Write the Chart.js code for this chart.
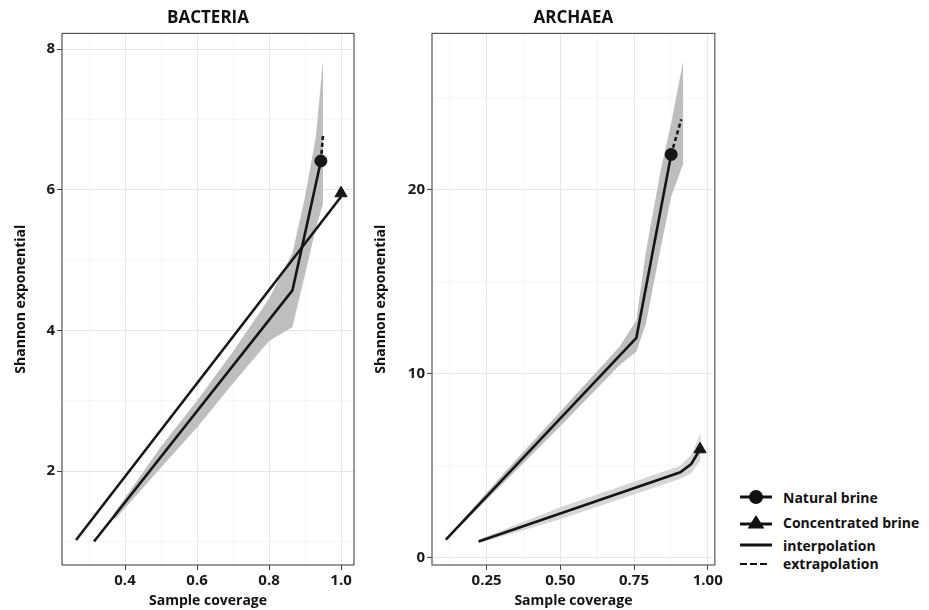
<!DOCTYPE html>
<html>
<head>
<meta charset="utf-8">
<script src="https://cdn.jsdelivr.net/npm/chart.js@4.4.0/dist/chart.umd.min.js"></script>
<style>
body{margin:0;background:#fff;font-family:'Open Sans','Liberation Sans',sans-serif;}
#wrap{position:relative;width:929px;height:610px;overflow:hidden;}
canvas{position:absolute;top:0;}
#bac{left:0}
#arc{left:360px}
.leg{position:absolute;left:738px;height:20px;display:flex;align-items:center;font-weight:bold;font-size:14px;color:#111;white-space:nowrap;}
.leg svg{margin-right:9px}
</style>
</head>
<body>
<div id="wrap">
  <canvas id="bac" width="362" height="610"></canvas>
  <canvas id="arc" width="365" height="610"></canvas>
  <div class="leg" style="top:487px"><svg width="36" height="16"><line x1="2" y1="8" x2="34" y2="8" stroke="#111" stroke-width="3"/><circle cx="18" cy="8" r="7" fill="#111"/></svg>Natural brine</div>
  <div class="leg" style="top:512px"><svg width="36" height="16"><line x1="2" y1="10" x2="34" y2="10" stroke="#111" stroke-width="3"/><polygon points="18,1 26.5,14.5 9.5,14.5" fill="#111"/></svg>Concentrated brine</div>
  <div class="leg" style="top:535px"><svg width="36" height="16"><line x1="2" y1="8" x2="34" y2="8" stroke="#111" stroke-width="3"/></svg>interpolation</div>
  <div class="leg" style="top:553px"><svg width="36" height="16"><line x1="2" y1="9" x2="32" y2="9" stroke="#111" stroke-width="2" stroke-dasharray="7,3"/></svg>extrapolation</div>
</div>
<script>
// ---- BACTERIA ----
const bacNatX = [0.314, 0.865, 0.90, 0.944];
const bacNatY = [1.0, 4.57, 5.38, 6.41];
const bacNatExtX = [0.944, 0.95];
const bacNatExtY = [6.41, 6.78];
const bacNatBandX = [0.37, 0.5, 0.6, 0.7, 0.8, 0.865, 0.9, 0.93, 0.95];
const bacNatBandUp = [1.4, 2.35, 3.0, 3.7, 4.45, 5.1, 5.9, 6.75, 7.85];
const bacNatBandLo = [1.3, 2.05, 2.62, 3.25, 3.85, 4.05, 4.8, 5.45, 5.8];
const bacConX = [0.264, 1.0];
const bacConY = [1.02, 5.9];
const bacNatObs = [0.944, 6.41];
const bacConObs = [1.0, 5.95];

const bacXTicks = [0.3, 0.4, 0.5, 0.6, 0.7, 0.8, 0.9, 1.0];
const bacXMajor = [0.4, 0.6, 0.8, 1.0];
const bacXLabels = ['0.4', '0.6', '0.8', '1.0'];
const bacYTicks = [1, 2, 3, 4, 5, 6, 7, 8];
const bacYMajor = [2, 4, 6, 8];
const bacYLabels = ['2', '4', '6', '8'];

// ---- ARCHAEA ----
const arcNatX = [0.112, 0.758, 0.876];
const arcNatY = [1.0, 11.95, 21.9];
const arcNatExtX = [0.876, 0.91];
const arcNatExtY = [21.9, 23.8];
const arcNatBandX = [0.112, 0.3, 0.5, 0.7, 0.758, 0.79, 0.84, 0.876, 0.917];
const arcNatBandUp = [1.05, 4.45, 7.95, 11.45, 12.9, 16.6, 21.0, 23.6, 27.0];
const arcNatBandLo = [0.95, 3.95, 7.15, 10.45, 11.2, 12.7, 16.8, 19.6, 21.4];
const arcConX = [0.223, 0.5, 0.907, 0.944, 0.974];
const arcConY = [0.9, 2.42, 4.65, 5.1, 5.9];
const arcConBandX = [0.223, 0.5, 0.907, 0.944, 0.976];
const arcConBandUp = [1.0, 2.75, 5.0, 5.6, 6.8];
const arcConBandLo = [0.8, 2.1, 4.3, 4.6, 5.3];
const arcNatObs = [0.876, 21.9];
const arcConObs = [0.974, 5.9];

const arcXTicks = [0.125, 0.25, 0.375, 0.5, 0.625, 0.75, 0.875, 1.0];
const arcXMajor = [0.25, 0.5, 0.75, 1.0];
const arcXLabels = ['0.25', '0.50', '0.75', '1.00'];
const arcYTicks = [0, 5, 10, 15, 20, 25];
const arcYMajor = [0, 10, 20];
const arcYLabels = ['0', '10', '20'];

const ink = '#161616';
const font = '"Open Sans", "Liberation Sans", sans-serif';

function pts(xs, ys) {
    return xs.map((x, i) => ({x: x, y: ys[i]}));
}

function idx(v, arr) {
    return arr.findIndex(a => Math.abs(a - v) < 1e-6);
}

function band(xs, up, lo, color) {
    return [
        {data: pts(xs, up), borderWidth: 0, pointRadius: 0, fill: '+1', backgroundColor: color, order: 2},
        {data: pts(xs, lo), borderWidth: 0, pointRadius: 0, fill: false, order: 2}
    ];
}

function line(xs, ys, dash) {
    return {data: pts(xs, ys), borderColor: ink, borderWidth: 2.6, borderDash: dash || [],
        pointRadius: 0, fill: false, order: 1};
}

function marker(p, style, r) {
    return {data: [{x: p[0], y: p[1]}], showLine: false, pointStyle: style, pointRadius: r,
        pointBackgroundColor: ink, pointBorderColor: ink, order: 0};
}

function axis(min, max, ticks, major, labels, extra) {
    let a = {
        type: 'linear', min: min, max: max,
        afterBuildTicks: s => { s.ticks = ticks.map(v => ({value: v})); },
        border: {display: false},
        grid: {
            color: c => idx(c.tick.value, major) >= 0 ? '#e6e6e6' : '#f0f0f0',
            lineWidth: c => idx(c.tick.value, major) >= 0 ? 1 : 0.7,
            tickColor: c => idx(c.tick.value, major) >= 0 ? '#444' : 'rgba(0,0,0,0)',
            tickLength: 5
        },
        ticks: {
            autoSkip: false, maxRotation: 0, padding: 2,
            color: '#1a1a1a', font: {family: font, size: 15, weight: 'bold'},
            callback: v => { let i = idx(v, major); return i >= 0 ? labels[i] : ''; }
        }
    };
    return Object.assign(a, extra);
}

const panelBorder = {
    id: 'panelBorder',
    afterDatasetsDraw(chart) {
        const a = chart.chartArea, ctx = chart.ctx;
        ctx.save();
        ctx.strokeStyle = '#555';
        ctx.lineWidth = 1.2;
        ctx.strokeRect(a.left, a.top, a.right - a.left, a.bottom - a.top);
        ctx.restore();
    }
};

function makeChart(id, title, datasets, xs, ys, yWidth, padRight) {
    new Chart(document.getElementById(id), {
        type: 'line',
        data: {datasets: datasets},
        options: {
            responsive: false,
            animation: false,
            layout: {padding: {left: 0, right: padRight, top: 0, bottom: 0}},
            plugins: {
                legend: {display: false},
                tooltip: {enabled: false},
                title: {
                    display: true, text: title, fullSize: false, color: '#111',
                    font: {family: font, size: 17, weight: 'bold'},
                    padding: {top: 8, bottom: 5}
                }
            },
            scales: {
                x: axis(xs[0], xs[1], xs[2], xs[3], xs[4], {
                    afterFit: s => { s.height = 45; },
                    title: {display: true, text: 'Sample coverage', color: '#111',
                        font: {family: font, size: 14, weight: 'bold'}, padding: {top: 0, bottom: 1}}
                }),
                y: axis(ys[0], ys[1], ys[2], ys[3], ys[4], {
                    afterFit: s => { s.width = yWidth; },
                    title: {display: true, text: 'Shannon exponential', color: '#111',
                        font: {family: font, size: 14, weight: 'bold'}, padding: {top: 13, bottom: 0}}
                })
            }
        },
        plugins: [panelBorder]
    });
}

makeChart('bac', 'BACTERIA', [
    ...band(bacNatBandX, bacNatBandUp, bacNatBandLo, '#bebebe'),
    line(bacConX, bacConY),
    line(bacNatX, bacNatY),
    line(bacNatExtX, bacNatExtY, [4, 3]),
    marker(bacNatObs, 'circle', 6),
    marker(bacConObs, 'triangle', 7)
], [0.225, 1.036, bacXTicks, bacXMajor, bacXLabels],
   [0.665, 8.223, bacYTicks, bacYMajor, bacYLabels], 62, 8);

makeChart('arc', 'ARCHAEA', [
    ...band(arcNatBandX, arcNatBandUp, arcNatBandLo, '#bebebe'),
    ...band(arcConBandX, arcConBandUp, arcConBandLo, '#d6d6d6'),
    line(arcNatX, arcNatY),
    line(arcNatExtX, arcNatExtY, [4, 3]),
    line(arcConX, arcConY),
    marker(arcNatObs, 'circle', 6),
    marker(arcConObs, 'triangle', 7)
], [0.065, 1.024, arcXTicks, arcXMajor, arcXLabels],
   [-0.38, 28.47, arcYTicks, arcYMajor, arcYLabels], 72, 8);
</script>
</body>
</html>
